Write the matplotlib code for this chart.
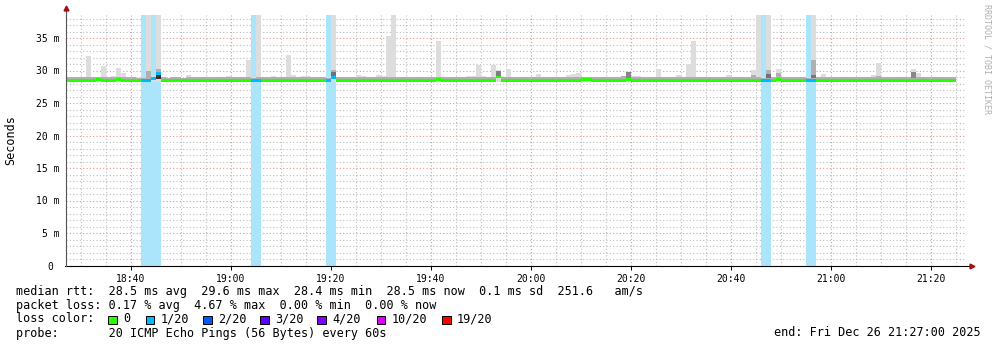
import numpy as np
import matplotlib
matplotlib.use("Agg")
import matplotlib.pyplot as plt
from matplotlib.ticker import FixedLocator, NullFormatter
from matplotlib.patches import Rectangle

# minutes after 18:27 (one step per probe, 60 s)
median = [
    28.5, 28.5, 28.5, 28.5, 28.5, 28.5, 28.6, 28.5, 28.5, 28.5,
    28.6, 28.5, 28.4, 28.5, 28.5, 28.45, 28.45, 28.75, 29.6, 28.5,
    28.4, 28.4, 28.5, 28.5, 28.4, 28.5, 28.5, 28.5, 28.4, 28.5,
    28.5, 28.4, 28.5, 28.5, 28.5, 28.5, 28.5, 28.45, 28.45, 28.5,
    28.5, 28.5, 28.5, 28.4, 28.5, 28.5, 28.5, 28.5, 28.5, 28.5,
    28.5, 28.5, 28.5, 28.9, 28.5, 28.5, 28.5, 28.4, 28.5, 28.5,
    28.5, 28.5, 28.5, 28.5, 28.5, 28.5, 28.5, 28.4, 28.5, 28.5,
    28.5, 28.5, 28.4, 28.5, 28.6, 28.5, 28.5, 28.5, 28.5, 28.5,
    28.5, 28.5, 28.5, 28.5, 28.5, 28.4, 29.0, 28.5, 28.5, 28.5,
    28.5, 28.5, 28.5, 28.5, 28.5, 28.5, 28.5, 28.5, 28.5, 28.4,
    28.5, 28.5, 28.5, 28.6, 28.6, 28.5, 28.5, 28.5, 28.5, 28.5,
    28.5, 28.5, 28.6, 28.5, 28.5, 28.5, 28.4, 28.5, 28.5, 28.5,
    28.5, 28.5, 28.5, 28.5, 28.5, 28.5, 28.4, 28.5, 28.5, 28.5,
    28.5, 28.5, 28.5, 28.5, 28.5, 28.5, 28.5, 28.5, 28.5, 28.45,
    28.45, 28.5, 28.6, 28.5, 28.5, 28.5, 28.5, 28.5, 28.45, 28.45,
    28.5, 28.5, 28.5, 28.5, 28.5, 28.5, 28.5, 28.5, 28.5, 28.5,
    28.5, 28.4, 28.5, 28.5, 28.5, 28.5, 28.5, 28.4, 28.5, 28.5,
    28.5, 28.5, 28.5, 28.5, 28.4, 28.5, 28.5, 28.5,
]

smoke_max = [
    28.9, 29.0, 29.0, 29.0, 32.2, 29.0, 29.0, 30.7, 29.0, 29.1,
    30.4, 29.6, 29.0, 29.0, 28.9, 28.8, 40.0, 29.3, 40.0, 29.0,
    28.9, 29.0, 29.0, 28.9, 29.3, 29.0, 29.0, 29.0, 29.0, 29.0,
    29.0, 29.0, 29.1, 29.0, 29.0, 29.0, 31.6, 29.0, 40.0, 29.0,
    29.0, 29.1, 29.0, 29.0, 32.4, 29.3, 29.0, 29.1, 29.1, 29.0,
    29.0, 29.0, 29.0, 40.0, 29.0, 29.0, 29.0, 29.0, 29.3, 29.1,
    29.0, 29.0, 29.3, 29.2, 35.3, 40.0, 29.0, 29.0, 29.0, 29.0,
    29.0, 29.0, 29.0, 29.0, 34.5, 29.0, 29.0, 29.0, 29.0, 29.0,
    29.1, 29.1, 30.9, 29.2, 29.0, 30.9, 30.0, 29.0, 30.2, 29.0,
    29.0, 29.0, 29.0, 29.0, 29.5, 29.0, 29.0, 29.0, 29.0, 29.0,
    29.3, 29.4, 29.6, 29.0, 29.0, 29.0, 29.0, 29.0, 29.0, 29.0,
    29.0, 29.1, 29.8, 29.2, 29.2, 29.0, 29.0, 29.0, 30.2, 29.0,
    29.0, 29.0, 29.3, 29.0, 31.0, 34.5, 29.0, 29.0, 29.0, 29.0,
    29.0, 29.0, 29.3, 29.0, 29.0, 29.0, 29.0, 30.1, 40.0, 29.0,
    40.0, 29.0, 30.2, 29.0, 29.0, 29.0, 29.0, 29.0, 29.0, 40.0,
    29.0, 29.4, 29.0, 29.0, 29.0, 29.0, 29.0, 29.0, 29.0, 29.0,
    29.0, 29.3, 31.2, 29.0, 29.0, 29.0, 29.0, 29.0, 29.0, 30.2,
    29.6, 29.0, 29.0, 29.0, 29.0, 29.0, 29.0, 29.0,
]

smoke_min = [
    28.3, 28.3, 28.2, 28.3, 28.2, 28.3, 28.3, 28.3, 28.2, 28.3,
    28.3, 28.2, 28.3, 28.3, 28.3, 28.3, 28.3, 28.3, 28.3, 28.3,
    28.2, 28.3, 28.3, 28.3, 28.3, 28.3, 28.3, 28.3, 28.3, 28.3,
    28.3, 28.2, 28.3, 28.3, 28.3, 28.3, 28.3, 28.3, 28.3, 28.3,
    28.3, 28.3, 28.3, 28.3, 28.3, 28.3, 28.3, 28.3, 28.3, 28.3,
    28.3, 28.3, 28.3, 28.3, 28.3, 28.3, 28.3, 28.3, 28.3, 28.3,
    28.3, 28.3, 28.3, 28.3, 28.3, 28.3, 28.2, 28.3, 28.3, 28.3,
    28.3, 28.3, 28.3, 28.3, 28.3, 28.3, 28.3, 28.3, 28.3, 28.3,
    28.3, 28.2, 28.3, 28.3, 28.3, 28.3, 28.3, 28.3, 28.3, 28.3,
    28.3, 28.3, 28.3, 28.3, 28.3, 28.3, 28.3, 28.3, 28.3, 28.3,
    28.2, 28.2, 28.3, 28.3, 28.3, 28.3, 28.3, 28.3, 28.3, 28.3,
    28.3, 28.3, 28.3, 28.2, 28.3, 28.3, 28.3, 28.3, 28.3, 28.3,
    28.3, 28.3, 28.3, 28.3, 28.3, 28.3, 28.3, 28.3, 28.3, 28.3,
    28.3, 28.3, 28.3, 28.3, 28.3, 28.3, 28.3, 28.3, 28.3, 28.3,
    28.3, 28.3, 28.3, 28.3, 28.3, 28.3, 28.3, 28.3, 28.3, 28.3,
    28.3, 28.3, 28.3, 28.3, 28.3, 28.3, 28.3, 28.3, 28.3, 28.3,
    28.3, 28.3, 28.3, 28.3, 28.3, 28.2, 28.2, 28.3, 28.3, 28.3,
    28.3, 28.3, 28.3, 28.3, 28.3, 28.3, 28.3, 28.3,
]

# inner pings (darker smoke) per minute
core_top = [
    28.95, 29.0, 28.95, 28.95, 28.95, 28.95, 28.95, 29.0, 28.95, 28.95,
    29.0, 29.0, 28.95, 28.95, 28.9, 28.8, 30.0, 29.0, 30.3, 28.95,
    28.9, 28.95, 28.95, 28.9, 28.95, 28.95, 28.95, 28.95, 28.95, 28.95,
    28.95, 29.0, 29.0, 28.95, 28.95, 28.95, 28.95, 28.9, 28.95, 28.95,
    28.95, 28.95, 28.95, 28.95, 29.0, 29.0, 28.95, 28.95, 28.95, 28.95,
    28.95, 28.95, 28.9, 30.1, 28.95, 28.95, 28.95, 28.95, 28.95, 28.95,
    28.95, 28.95, 28.95, 28.95, 28.95, 28.95, 28.95, 28.95, 28.95, 28.95,
    28.95, 28.95, 28.95, 28.95, 28.95, 28.95, 28.95, 28.95, 28.95, 28.95,
    28.95, 28.95, 28.95, 28.95, 28.95, 28.95, 30.0, 28.95, 28.95, 28.95,
    29.0, 28.95, 28.95, 28.95, 28.95, 28.95, 28.95, 28.95, 28.95, 28.95,
    28.95, 28.95, 29.0, 29.0, 29.0, 28.95, 28.95, 28.95, 28.95, 28.95,
    29.0, 29.1, 29.8, 28.95, 28.95, 28.95, 28.95, 28.95, 28.95, 28.95,
    28.95, 28.95, 28.95, 28.95, 28.95, 28.95, 28.95, 28.95, 28.95, 28.95,
    28.95, 28.95, 28.95, 28.95, 28.95, 28.95, 28.95, 29.3, 28.95, 28.9,
    30.1, 28.95, 29.6, 28.95, 28.95, 28.95, 28.95, 28.95, 28.9, 31.6,
    28.95, 28.95, 28.95, 28.95, 28.95, 28.95, 28.95, 28.95, 28.95, 28.95,
    28.95, 28.95, 29.1, 28.95, 28.95, 28.95, 28.95, 28.95, 28.95, 29.7,
    29.0, 28.95, 28.95, 28.95, 28.95, 28.95, 28.95, 28.95,
]

dark_cols = [18, 53, 86, 112, 140, 149, 169]
dark_lo = [28.7, 29.1, 29.2, 28.9, 28.8, 28.8, 28.9]
dark_hi = [29.6, 29.7, 29.9, 29.8, 29.5, 29.3, 29.7]
dark_colors = ["#303030", "#707070", "#808080", "#888888", "#707070", "#777777", "#888888"]

# pings lost out of 20
loss_cols = [15, 16, 17, 18, 37, 38, 52, 53, 139, 140, 148, 149]

x_labels = ["18:40", "19:00", "19:20", "19:40", "20:00", "20:20", "20:40", "21:00", "21:20"]
x_label_pos = [13, 33, 53, 73, 93, 113, 133, 153, 173]
y_ticks = [0, 5, 10, 15, 20, 25, 30, 35]
y_labels = ["0 ", "5 m", "10 m", "15 m", "20 m", "25 m", "30 m", "35 m"]

loss_names = ["0", "1/20", "2/20", "3/20", "4/20", "10/20", "19/20"]
loss_colors = ["#26ff00", "#00b8ff", "#0059ff", "#5e00ff", "#7e00ff", "#dd00ff", "#ff0000"]

MONO = "DejaVu Sans Mono"
W, H = 997, 347

fig = plt.figure(figsize=(W / 100, H / 100), dpi=100)
ax = fig.add_axes([65.5 / W, 81.5 / H, 900 / W, 251 / H])
ax.set_xlim(0, 180)
ax.set_ylim(0, 251 / 6.5)

minutes = np.arange(len(median))
med = np.array(median)

# loss background
for c in loss_cols:
    ax.axvspan(c, c + 1, color="#aae5fc", lw=0, zorder=1)

# smoke
ax.bar(minutes, np.array(smoke_max) - np.array(smoke_min), bottom=smoke_min,
       width=1, align="edge", color="#dddddd", lw=0, zorder=2)
ax.bar(minutes, np.array(core_top) - med, bottom=med,
       width=1, align="edge", color="#b0b0b0", lw=0, zorder=3)
for c, lo, hi, col in zip(dark_cols, dark_lo, dark_hi, dark_colors):
    ax.bar(c, hi - lo, bottom=lo, width=1, align="edge", color=col, lw=0, zorder=4)

# median line, coloured by loss
med_colors = [loss_colors[1] if i in loss_cols else loss_colors[0] for i in minutes]
ax.bar(minutes, 0.46, bottom=med - 0.23, width=1, align="edge",
       color=med_colors, lw=0, zorder=5)

# grid
minor_x = [m for m in range(3, 180, 5) if m not in x_label_pos]
ax.xaxis.set_major_locator(FixedLocator(x_label_pos))
ax.xaxis.set_minor_locator(FixedLocator(minor_x))
ax.set_xticklabels(x_labels, fontfamily=MONO, fontsize=7)
ax.yaxis.set_major_locator(FixedLocator(y_ticks))
ax.yaxis.set_minor_locator(FixedLocator([v for v in range(1, 39) if v % 5]))
ax.set_yticklabels(y_labels, fontfamily=MONO, fontsize=7)
ax.xaxis.set_minor_formatter(NullFormatter())
ax.yaxis.set_minor_formatter(NullFormatter())

ax.grid(which="major", color="#e39494", lw=0.8, ls=(0, (1, 2)), zorder=0.5)
ax.grid(which="minor", color="#bdbdbd", lw=0.8, ls=(0, (1, 2)), zorder=0.5)
ax.set_axisbelow(True)
ax.tick_params(axis="x", which="major", length=3, width=0.7, pad=3, colors="#000000")
ax.tick_params(axis="y", which="major", length=0, pad=4)
ax.tick_params(which="minor", length=0)
for s in ax.spines.values():
    s.set_visible(False)

# axes with arrow heads
ax.plot([-0.2, 181.0], [0, 0], color="#000000", lw=0.8, clip_on=False, zorder=6)
ax.plot([0, 0], [0, 39.3], color="#555555", lw=0.8, clip_on=False, zorder=6)
ax.plot([181.2], [0], marker=">", ms=3.5, color="#a01010", clip_on=False, zorder=7)
ax.plot([0], [39.6], marker="^", ms=3.5, color="#a01010", clip_on=False, zorder=7)

ax.set_ylabel("Seconds", fontfamily=MONO, fontsize=8.5)
ax.yaxis.set_label_coords(-48 / 900, 0.5)

fig.text(987 / W, 1 - 4 / H, "RRDTOOL / TOBI OETIKER", rotation=270, ha="center", va="top",
         fontfamily=MONO, fontsize=6, color="#b0b0b0")

# legend block
def ftxt(x, y, s, **kw):
    fig.text(x / W, 1 - y / H, s, fontfamily=MONO, fontsize=8.5, va="center", **kw)

ftxt(16, 291.5, "median rtt:  28.5 ms avg  29.6 ms max  28.4 ms min  28.5 ms now  0.1 ms sd  251.6   am/s")
ftxt(16, 305, "packet loss: 0.17 % avg  4.67 % max  0.00 % min  0.00 % now")
ftxt(16, 319, "loss color:")
ftxt(16, 333, "probe:       20 ICMP Echo Pings (56 Bytes) every 60s")
ftxt(981, 333, "end: Fri Dec 26 21:27:00 2025", ha="right")

box_x = [108.3, 145.7, 203.0, 260.3, 317.3, 376.7, 442.0]
for bx, name, col in zip(box_x, loss_names, loss_colors):
    fig.patches.append(Rectangle((bx / W, 1 - 324 / H), 8.5 / W, 8.5 / H, transform=fig.transFigure,
                                 facecolor=col, edgecolor="#000000", lw=0.7))
    ftxt(bx + 15, 319, name)

fig.savefig("out.png", dpi=100)
